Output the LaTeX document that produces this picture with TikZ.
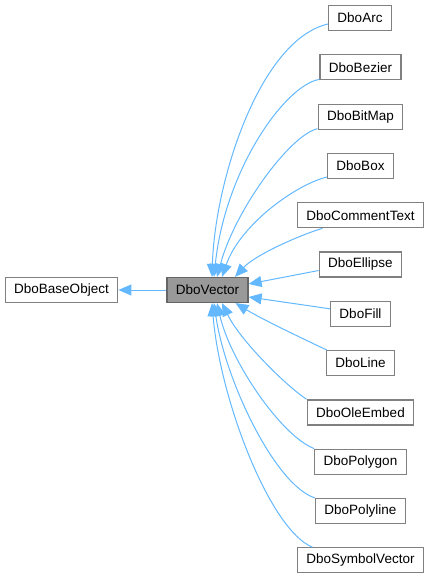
\documentclass[tikz,border=0pt]{standalone}
\usepackage{fontspec}
\setmainfont{Liberation Sans}
\usetikzlibrary{arrows.meta,calc}
\definecolor{edgeblue}{HTML}{63B8FF}
\definecolor{boxborder}{HTML}{808080}
\definecolor{vecfill}{HTML}{999999}
\begin{document}
\begin{tikzpicture}[x=1pt,y=-1pt,
  cls/.style={draw=boxborder, line width=1.2pt, fill=white, minimum height=25pt, inner xsep=9pt, inner ysep=0pt, font=\fontsize{13.5}{16}\selectfont, text=black},
  hl/.style={cls, draw=black!60, fill=vecfill},
  edge/.style={draw=edgeblue, line width=1pt, -{Triangle[length=13pt,width=11pt]}}
]
\useasboundingbox (0,0) rectangle (429,579);
\node[cls] (base) at (61.5,290) {DboBaseObject};
\node[hl] (vec) at (207.5,290) {DboVector};
\node[cls] (arc) at (360,18) {DboArc};
\node[cls] (bezier) at (360.5,67.3) {DboBezier};
\node[cls] (bitmap) at (360.5,116.6) {DboBitMap};
\node[cls] (box) at (360.5,165.9) {DboBox};
\node[cls] (comment) at (360.5,215.2) {DboCommentText};
\node[cls] (ellipse) at (360.5,264.5) {DboEllipse};
\node[cls] (fill) at (360.5,313.8) {DboFill};
\node[cls] (line) at (360.5,363.1) {DboLine};
\node[cls] (ole) at (360.5,412.4) {DboOleEmbed};
\node[cls] (polygon) at (360.5,461.7) {DboPolygon};
\node[cls] (polyline) at (360.5,511) {DboPolyline};
\node[cls] (symvec) at (360.5,560.3) {DboSymbolVector};

\draw[edge] (vec.west) -- (base.east);

\draw[edge] ($(arc.west)+(0,6)$) .. controls (260,40) and (215,180) .. ($(vec.north)+(4.5,0)$);
\draw[edge] ($(bezier.south west)+(0,-1)$) .. controls (285,85) and (225,170) .. ($(vec.north)+(6.5,0)$);
\draw[edge] ($(bitmap.south west)+(0,-1)$) .. controls (290,135) and (235,210) .. ($(vec.north)+(9.5,0)$);
\draw[edge] ($(box.south west)+(0,-2)$) .. controls (295,185) and (240,225) .. ($(vec.north)+(14.5,0)$);
\draw[edge] ($(comment.south)+(-38,0)$) .. controls (300,235) and (255,255) .. ($(vec.north)+(27.5,0)$);
\draw[edge] ($(ellipse.west)+(0,6)$) -- ($(vec.east)+(0,-6)$);
\draw[edge] ($(fill.west)+(0,-5)$) -- ($(vec.east)+(0,7)$);
\draw[edge] ($(line.north west)+(1,0)$) .. controls (295,335) and (260,318) .. ($(vec.south)+(28,0)$);
\draw[edge] (ole.north west) .. controls (285,385) and (240,340) .. ($(vec.south)+(14.5,0)$);
\draw[edge] (polygon.north west) .. controls (280,435) and (230,360) .. ($(vec.south)+(9.5,0)$);
\draw[edge] (polyline.north west) .. controls (275,485) and (225,380) .. ($(vec.south)+(6.5,0)$);
\draw[edge] ($(symvec.north)+(-48,0)$) .. controls (270,530) and (220,400) .. ($(vec.south)+(4.5,0)$);
\end{tikzpicture}
\end{document}
